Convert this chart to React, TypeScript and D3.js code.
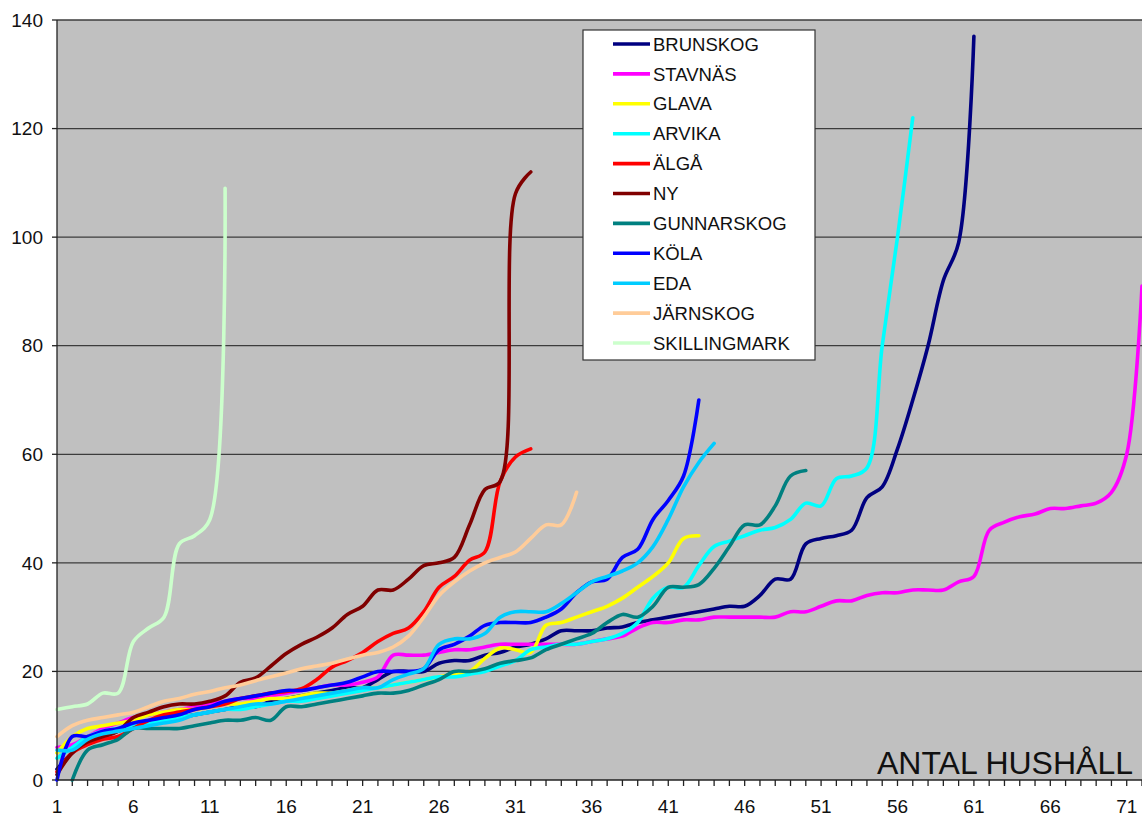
import React from "react";
import * as d3 from "d3";

const BRUNSKOG = [2, 5, 7, 8, 9, 10, 10.5, 11, 11.5, 12, 12.5, 13, 13.5, 13.5, 14.5, 15, 15.5, 16, 16.5, 17, 17, 18.5, 20, 20, 20, 21.5, 22, 22, 23, 23.5, 24.5, 25, 26, 27.5, 27.5, 27.5, 28, 28.2, 29, 29.5, 30, 30.5, 31, 31.5, 32, 32, 34, 37, 37, 43.5, 44.5, 45, 46, 52, 54, 61, 70, 80, 92, 99, 137];
const STAVNAS = [6, 6.5, 8, 9.5, 10.5, 11.5, 12, 12.5, 13, 13.5, 14, 14.5, 15, 15, 15.5, 16, 16.5, 17, 17.5, 17.5, 18, 19, 23, 23, 23, 23.5, 24, 24, 24.5, 25, 25, 25, 25, 25, 25, 25.5, 26, 26.5, 28, 29, 29, 29.5, 29.5, 30, 30, 30, 30, 30, 31, 31, 32, 33, 33, 34, 34.5, 34.5, 35, 35, 35, 36.5, 37.5, 46, 47.5, 48.5, 49, 50, 50, 50.5, 51, 53, 60, 91];
const GLAVA = [5, 8, 9.5, 10, 10.5, 11, 12, 12.5, 13, 13, 13.5, 14, 14, 14.5, 15, 15, 15.5, 16, 16, 16.5, 17, 17, 17.5, 18, 18.5, 19, 19.5, 20, 22.4, 24.3, 24, 23.5, 28.5, 29, 30, 31, 32, 33.5, 35.5, 37.5, 40, 44.5, 45];
const ARVIKA = [4, 6, 8, 9, 9.5, 10, 10.5, 11, 11.5, 12, 12.5, 13, 13, 13.5, 14, 14.5, 14.5, 15, 15.5, 16, 16.5, 17, 17.5, 18, 18.5, 19, 19, 19.5, 20, 21, 22, 24, 24.5, 25, 25, 25.5, 26, 27, 29, 33.5, 35.5, 35.5, 39.5, 43, 44, 45, 46, 46.5, 48, 51, 50.5, 55.5, 56, 57.5, 80, 100, 122];
const ALGA = [1.5, 5, 6.5, 7.5, 8, 9.5, 11, 12, 12.5, 13, 13.5, 14, 15, 15.5, 16, 16.3, 16.8, 18.5, 20.8, 22, 23.5, 25.5, 27, 28, 31, 35.5, 37.5, 40.5, 42, 55, 59.5, 61];
const NY = [1, 5, 7, 8, 9, 11.5, 12.5, 13.5, 14, 14, 14.5, 15.5, 18, 18.8, 21, 23.3, 25, 26.3, 28, 30.5, 32, 35, 35, 37, 39.5, 40, 41, 47, 53.5, 55, 108, 112];
const GUNNARSKOG = [null, 0, 5.5, 6.5, 7.5, 9.5, 9.5, 9.5, 9.5, 10, 10.5, 11, 11, 11.5, 11, 13.5, 13.5, 14, 14.5, 15, 15.5, 16, 16, 16.5, 17.5, 18.5, 20, 20, 20.5, 21.5, 22, 22.5, 24, 25, 26, 27, 29, 30.5, 30, 32, 35.5, 35.5, 36, 39, 43, 47, 47, 50.5, 56, 57];
const KOLA = [0, 8, 8, 9, 9.5, 10.5, 11, 11.5, 12, 13, 13.5, 14.5, 15, 15.5, 16, 16.5, 16.5, 17, 17.5, 18, 19, 20, 20, 20, 20.5, 24, 25, 26.5, 28.5, 29, 29, 29, 30, 31.5, 34.5, 36.5, 37, 41, 42.5, 48, 51.5, 56, 70];
const EDA = [5.5, 5.5, 7.5, 8.5, 9, 9.5, 10, 10.5, 11, 12, 12.5, 13, 13.5, 14, 14, 14.5, 15, 15.5, 16, 16.5, 17, 17, 18.5, 19.5, 20.5, 25, 26, 26, 27, 30, 31, 31, 31, 32.5, 34.5, 36.5, 37.5, 38.5, 40, 43, 48, 54, 58.5, 62];
const JARNSKOG = [8, 10, 11, 11.5, 12, 12.5, 13.5, 14.5, 15, 15.8, 16.3, 17, 17.5, 18.3, 19, 19.7, 20.5, 21, 21.5, 22.3, 23, 23.5, 24.5, 26.5, 30, 34, 36.5, 38.5, 40, 41, 42, 44.5, 47, 47, 53];
const SKILLINGMARK = [13, 13.5, 14, 16, 16, 25.5, 28, 30, 43.5, 45, 48, 109];

const SERIES_NAMES = ["BRUNSKOG", "STAVNÄS", "GLAVA", "ARVIKA", "ÄLGÅ", "NY", "GUNNARSKOG", "KÖLA", "EDA", "JÄRNSKOG", "SKILLINGMARK"];
const SERIES_VALUES = [BRUNSKOG, STAVNAS, GLAVA, ARVIKA, ALGA, NY, GUNNARSKOG, KOLA, EDA, JARNSKOG, SKILLINGMARK];
const SERIES_COLORS = ["#000080", "#FF00FF", "#FFFF00", "#00FFFF", "#FF0000", "#800000", "#008080", "#0000FF", "#00CCFF", "#FFCC99", "#CCFFCC"];

const CATEGORY_COUNT = 72;
const X_TICK_LABELS = [1, 6, 11, 16, 21, 26, 31, 36, 41, 46, 51, 56, 61, 66, 71];
const Y_TICKS = [0, 20, 40, 60, 80, 100, 120, 140];
const AXIS_TITLE = "ANTAL HUSHÅLL";

const W = 1142;
const H = 816;
const PL = 57;
const PR = 1142;
const PT = 20;
const PB = 780;
const FONT = "'Liberation Sans', Arial, sans-serif";

export default function App() {
  const x = d3.scaleLinear().domain([1, CATEGORY_COUNT]).range([PL, PR]);
  const y = d3.scaleLinear().domain([0, 140]).range([PB, PT]);
  const categories = d3.range(1, CATEGORY_COUNT + 1);

  const line = d3
    .line<number | null>()
    .defined((d) => d != null)
    .x((_, i) => x(i + 1))
    .y((d) => y(d as number))
    .curve(d3.curveCatmullRom.alpha(0.5));

  const legendX = 583;
  const legendY = 30;
  const legendW = 232;
  const legendH = 330;
  const rowY = d3.scaleLinear().domain([0, 10]).range([44, 343]);

  return (
    <svg
      width={W}
      height={H}
      style={{ position: "absolute", left: 0, top: 0, display: "block", background: "#fff" }}
    >
      <defs>
        <clipPath id="plotclip">
          <rect x={PL - 2} y={PT - 10} width={PR - PL + 10} height={PB - PT + 12} />
        </clipPath>
      </defs>
      <rect x={PL} y={PT} width={PR - PL} height={PB - PT} fill="#C0C0C0" />
      {Y_TICKS.map((t) => (
        <g key={t}>
          {t > 0 && (
            <line x1={PL} x2={PR} y1={y(t)} y2={y(t)} stroke="#3c3c3c" strokeWidth={1.3} />
          )}
          <line x1={PL - 5} x2={PL} y1={y(t)} y2={y(t)} stroke="#222" strokeWidth={1.3} />
          <text
            x={43}
            y={y(t)}
            dy="0.35em"
            textAnchor="end"
            fontFamily={FONT}
            fontSize={19}
            fill="#111"
          >
            {t}
          </text>
        </g>
      ))}
      {categories.map((c) => (
        <line key={c} x1={x(c)} x2={x(c)} y1={PB} y2={PB + 6} stroke="#222" strokeWidth={1.3} />
      ))}
      {X_TICK_LABELS.map((c) => (
        <text
          key={c}
          x={x(c)}
          y={813}
          textAnchor="middle"
          fontFamily={FONT}
          fontSize={19}
          fill="#111"
        >
          {c}
        </text>
      ))}
      <g clipPath="url(#plotclip)">
        {SERIES_VALUES.map((vals, i) => (
          <path
            key={SERIES_NAMES[i]}
            d={line(vals as (number | null)[]) || ""}
            fill="none"
            stroke={SERIES_COLORS[i]}
            strokeWidth={3.6}
            strokeLinejoin="round"
            strokeLinecap="round"
          />
        ))}
      </g>
      <line x1={PL} x2={PL} y1={PT} y2={PB} stroke="#222" strokeWidth={1.3} />
      <line x1={PL} x2={PR} y1={PB} y2={PB} stroke="#222" strokeWidth={1.3} />
      <text
        x={1133}
        y={774}
        textAnchor="end"
        fontFamily={FONT}
        fontSize={32}
        fill="#111"
      >
        {AXIS_TITLE}
      </text>
      <g>
        <rect
          x={legendX}
          y={legendY}
          width={legendW}
          height={legendH}
          fill="#fff"
          stroke="#333"
          strokeWidth={1.2}
        />
        {SERIES_NAMES.map((name, i) => (
          <g key={name}>
            <line
              x1={613}
              x2={650}
              y1={rowY(i)}
              y2={rowY(i)}
              stroke={SERIES_COLORS[i]}
              strokeWidth={3.6}
            />
            <text
              x={653}
              y={rowY(i)}
              dy="0.36em"
              fontFamily={FONT}
              fontSize={18.5}
              fill="#111"
            >
              {name}
            </text>
          </g>
        ))}
      </g>
    </svg>
  );
}
